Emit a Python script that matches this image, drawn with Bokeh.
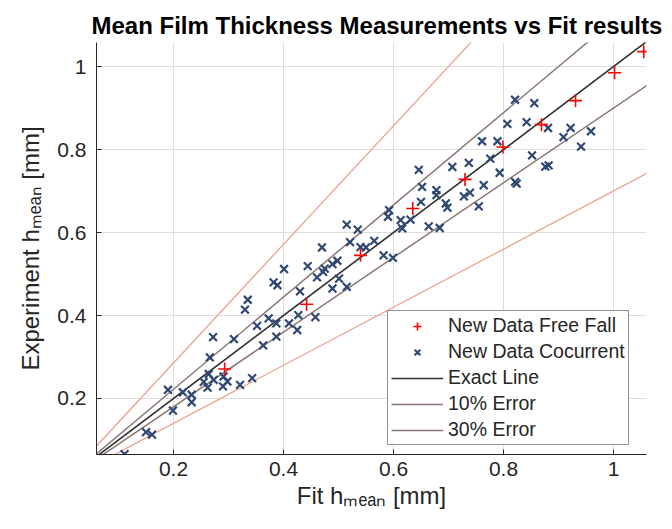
from bokeh.plotting import figure
from bokeh.models import Range1d, FixedTicker, Legend, LegendItem
from bokeh.embed import file_html
from bokeh.resources import INLINE

# ---- data ----
free_fall_fit = [1.055, 1.002, 0.931, 0.869, 0.799, 0.730, 0.635, 0.540, 0.442, 0.293]
free_fall_exp = [1.036, 0.985, 0.918, 0.860, 0.806, 0.728, 0.658, 0.545, 0.427, 0.271]

cocurrent_fit = [0.111, 0.150, 0.161, 0.190, 0.199, 0.217, 0.233, 0.233, 0.255, 0.262,
                 0.264, 0.266, 0.272, 0.273, 0.290, 0.291, 0.298, 0.310, 0.321, 0.343,
                 0.330, 0.335, 0.352, 0.363, 0.373, 0.382, 0.389, 0.387, 0.387, 0.410,
                 0.425, 0.427, 0.458,
                 0.401, 0.430, 0.444, 0.461, 0.470, 0.472, 0.475, 0.489, 0.498, 0.489,
                 0.501, 0.515, 0.515, 0.535, 0.521, 0.540, 0.550, 0.565, 0.582, 0.599,
                 0.592, 0.590, 0.613, 0.616, 0.631,
                 0.646, 0.652, 0.650, 0.664, 0.678, 0.678, 0.684, 0.695, 0.698, 0.707,
                 0.737, 0.728, 0.739, 0.755, 0.764, 0.776, 0.793, 0.761, 0.789, 0.807,
                 0.821, 0.856, 0.842, 0.881, 0.922, 0.909, 0.959, 0.941, 0.852, 0.876,
                 0.882, 0.821, 0.824]
cocurrent_exp = [0.066, 0.119, 0.113, 0.221, 0.171, 0.215, 0.209, 0.191, 0.240, 0.226,
                 0.259, 0.299, 0.348, 0.245, 0.229, 0.253, 0.241, 0.343, 0.233, 0.249,
                 0.414, 0.438, 0.375, 0.328, 0.393, 0.480, 0.473, 0.381, 0.349, 0.381,
                 0.365, 0.401, 0.396,
                 0.512, 0.458, 0.519, 0.492, 0.564, 0.505, 0.513, 0.524, 0.532, 0.465,
                 0.489, 0.469, 0.619, 0.607, 0.577, 0.565, 0.564, 0.580, 0.545, 0.539,
                 0.654, 0.638, 0.630, 0.610, 0.631,
                 0.751, 0.710, 0.674, 0.615, 0.702, 0.690, 0.611, 0.670, 0.660, 0.758,
                 0.768, 0.687, 0.696, 0.663, 0.714, 0.778, 0.744, 0.820, 0.820, 0.862,
                 0.920, 0.912, 0.866, 0.852, 0.852, 0.830, 0.844, 0.807, 0.786, 0.759,
                 0.762, 0.722, 0.718]

ref_x = [0.0, 1.2]          # extent of the reference lines
err_small = 0.10            # "10% Error"
err_large = 0.30            # "30% Error"

x_ticks = [0.2, 0.4, 0.6, 0.8, 1.0]
x_tick_labels = ["0.2", "0.4", "0.6", "0.8", "1"]
y_ticks = [0.2, 0.4, 0.6, 0.8, 1.0]
y_tick_labels = ["0.2", "0.4", "0.6", "0.8", "1"]

title_text = "Mean Film Thickness Measurements vs Fit results"
x_label = "Fit h\u2098\u2091\u2090\u2099 [mm]"
y_label = "Experiment h\u2098\u2091\u2090\u2099 [mm]"

FONT = "Liberation Sans"
AX = "#262626"

p = figure(width=672, height=529, output_backend="svg", toolbar_location=None,
           x_range=Range1d(0.06, 1.06), y_range=Range1d(0.065, 1.058),
           min_border_left=96, min_border_right=26, min_border_top=42, min_border_bottom=75,
           title=title_text)
p.outline_line_color = None
p.title.text_font = FONT
p.title.text_font_size = "24px"
p.title.text_font_style = "bold"
p.title.text_color = "#000000"
p.title.align = "left"
p.title.offset = -5
p.title.standoff = 7

for ax, ticks, labels, stand in ((p.xaxis, x_ticks, x_tick_labels, 7), (p.yaxis, y_ticks, y_tick_labels, 10)):
    ax.ticker = FixedTicker(ticks=ticks)
    ax.major_label_overrides = {t: l for t, l in zip(ticks, labels)}
    ax.major_tick_in = 5
    ax.major_tick_out = 0
    ax.minor_tick_line_color = None
    ax.axis_line_color = AX
    ax.major_tick_line_color = AX
    ax.major_label_text_font = FONT
    ax.major_label_text_font_size = "21px"
    ax.major_label_text_color = AX
    ax.major_label_standoff = stand
    ax.axis_label_text_font = FONT
    ax.axis_label_text_font_size = "24px"
    ax.axis_label_text_font_style = "normal"
    ax.axis_label_text_color = AX

p.xaxis.axis_label = x_label
p.yaxis.axis_label = y_label
p.xaxis.axis_label_standoff = 3
p.yaxis.axis_label_standoff = 10

p.grid.grid_line_color = "#dedede"
p.grid.grid_line_width = 1

# reference lines
exact_y = [v for v in ref_x]
up10 = [v / (1 - err_small) for v in ref_x]
lo10 = [v * (1 - err_small) for v in ref_x]
up30 = [v / (1 - err_large) for v in ref_x]
lo30 = [v * (1 - err_large) for v in ref_x]

C30 = "#eba38e"
C10 = "#8c7773"
r_up30 = p.line(ref_x, up30, line_color=C30, line_width=1.3)
r_lo30 = p.line(ref_x, lo30, line_color=C30, line_width=1.3)
r_up10 = p.line(ref_x, up10, line_color=C10, line_width=1.5)
r_lo10 = p.line(ref_x, lo10, line_color=C10, line_width=1.5)
r_exact = p.line(ref_x, exact_y, line_color="#2e2e2e", line_width=1.6)

r_co = p.scatter(cocurrent_fit, cocurrent_exp, marker="x", size=11,
                 line_color="#2f4874", line_width=2.2)
r_ff = p.scatter(free_fall_fit, free_fall_exp, marker="cross", size=13,
                 line_color="#ff0000", line_width=1.6)

legend = Legend(items=[
    LegendItem(label="New Data Free Fall", renderers=[r_ff]),
    LegendItem(label="New Data Cocurrent", renderers=[r_co]),
    LegendItem(label="Exact Line", renderers=[r_exact]),
    LegendItem(label="10% Error", renderers=[r_up10]),
    LegendItem(label="30% Error", renderers=[r_lo10]),
], location=(291, 9), orientation="vertical")
legend.label_text_font = FONT
legend.label_text_font_size = "19.5px"
legend.label_text_color = AX
legend.glyph_width = 52
legend.glyph_height = 20
legend.label_height = 20
legend.spacing = 3
legend.padding = 3
legend.margin = 0
legend.label_standoff = 5
legend.border_line_color = AX
legend.border_line_width = 1
legend.background_fill_color = "white"
legend.background_fill_alpha = 1.0
p.add_layout(legend)

open("out.html", "w").write(file_html(p, INLINE))
